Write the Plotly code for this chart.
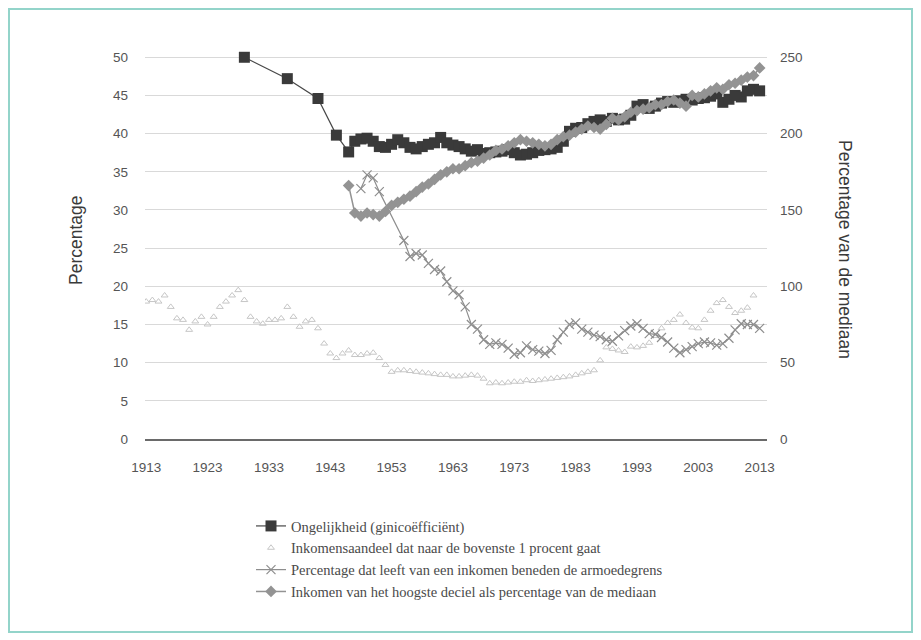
import plotly.graph_objects as go

# ---------------- data ----------------
gini_years = [1929, 1936, 1941, 1944, 1946] + list(range(1947, 2014))
gini_values = [50.0, 47.2, 44.6, 39.8, 37.6,
               39.0, 39.3, 39.4, 39.0, 38.3, 38.2, 38.6, 39.2, 38.8, 38.2,
               38.0, 38.3, 38.6, 38.8, 39.5, 38.8, 38.5, 38.3, 38.0, 37.7,
               37.9, 37.4, 37.5, 37.6, 37.7, 37.9, 37.5, 37.2, 37.3, 37.5,
               37.8, 37.9, 38.0, 38.2, 39.0, 40.3, 40.7, 40.8, 41.3, 41.6,
               41.8, 41.6, 42.0, 41.8, 41.9, 42.4, 43.6, 43.8, 43.3, 43.6,
               44.0, 44.2, 44.1, 44.3, 44.5, 44.4, 44.6, 44.7, 44.9, 45.2,
               44.1, 44.5, 45.0, 44.8, 45.6, 45.8, 45.6]

top1_years = list(range(1913, 2013))
top1_values = [18.0, 18.2, 18.0, 18.8, 17.3, 15.8, 15.6, 14.3, 15.4, 16.0,
               15.0, 16.0, 17.3, 18.0, 18.8, 19.5, 18.2, 16.0, 15.4, 15.1,
               15.6, 15.6, 15.8, 17.3, 16.0, 14.7, 15.4, 15.6, 14.5, 12.5,
               11.2, 10.6, 11.2, 11.6, 11.0, 11.0, 11.2, 11.3, 10.6, 9.7,
               8.8, 9.0, 9.0, 8.9, 8.8, 8.7, 8.6, 8.5, 8.4, 8.4,
               8.2, 8.2, 8.3, 8.4, 8.3, 7.9, 7.3, 7.4, 7.3, 7.4,
               7.5, 7.5, 7.7, 7.6, 7.7, 7.8, 7.9, 8.0, 8.1, 8.2,
               8.4, 8.6, 8.8, 9.0, 10.3, 12.0, 11.8, 11.6, 11.4, 12.1,
               12.0, 12.2, 12.6, 13.5, 14.5, 15.2, 15.6, 16.3, 15.2, 14.6,
               14.5, 15.6, 16.8, 17.8, 18.2, 17.3, 16.5, 16.8, 17.2, 18.8]

poverty_years = [1948, 1949, 1950, 1951] + list(range(1955, 2014))
poverty_values = [32.8, 34.6, 34.2, 32.4,
                  26.0, 23.9, 24.3, 24.1, 23.0, 22.2, 22.0, 20.6, 19.4, 18.9,
                  17.3, 15.0, 14.4, 13.0, 12.4, 12.6, 12.4, 11.9, 11.1, 11.3,
                  12.2, 11.7, 11.5, 11.2, 11.6, 13.0, 14.0, 15.0, 15.2, 14.4,
                  14.0, 13.6, 13.4, 13.0, 12.8, 13.5, 14.2, 14.8, 15.1, 14.5,
                  13.8, 13.7, 13.3, 12.7, 11.9, 11.3, 11.7, 12.1, 12.5, 12.7,
                  12.6, 12.3, 12.5, 13.2, 14.3, 15.1, 15.0, 15.0, 14.5]

decile_years = list(range(1946, 2014))
decile_values = [166, 148, 146, 148, 147, 146, 149, 153, 155, 157,
                 159, 162, 165, 167, 170, 173, 175, 177, 177, 179,
                 181, 182, 184, 186, 189, 190, 192, 194, 196, 195,
                 194, 193, 192, 193, 196, 198, 199, 201, 203, 205,
                 204, 203, 206, 210, 209, 211, 214, 215, 216, 217,
                 219, 219, 221, 222, 220, 218, 225, 224, 226, 228,
                 230, 229, 232, 233, 235, 237, 238, 243]

x_tick_years = list(range(1913, 2014, 10))
left_ticks = list(range(0, 51, 5))
right_ticks = list(range(0, 251, 50))

series_names = [
    "Ongelijkheid (ginicoëfficiënt)",
    "Inkomensaandeel dat naar de bovenste 1 procent gaat",
    "Percentage dat leeft van een inkomen beneden de armoedegrens",
    "Inkomen van het hoogste deciel als percentage van de mediaan",
]

# ---------------- geometry ----------------
# the page body has an 8px margin, so the figure is drawn 8px smaller
OFF = 8
W, H = 921 - OFF, 640 - OFF
ML, MR, MT, MB = 145 - OFF, 154, 34, 201
PW, PH = W - ML - MR, H - MT - MB


def px_x(page_x):
    return (page_x - OFF - ML) / PW


def px_y(page_y):
    return (MT + PH - (page_y - OFF)) / PH


fig = go.Figure()

fig.add_trace(go.Scatter(
    x=gini_years, y=gini_values, name=series_names[0], mode="lines+markers",
    line=dict(color="#474747", width=1.2),
    marker=dict(symbol="square", size=11, color="#3a3a3a"),
    yaxis="y"))

fig.add_trace(go.Scatter(
    x=top1_years, y=top1_values, name=series_names[1], mode="markers",
    marker=dict(symbol="triangle-up-open", size=6, color="#c6c6c6",
                line=dict(width=1, color="#c6c6c6")),
    yaxis="y"))

fig.add_trace(go.Scatter(
    x=poverty_years, y=poverty_values, name=series_names[2], mode="lines+markers",
    line=dict(color="#8e8e8e", width=1.2),
    marker=dict(symbol="x-thin-open", size=9, color="#8e8e8e",
                line=dict(width=1.2, color="#8e8e8e")),
    yaxis="y"))

fig.add_trace(go.Scatter(
    x=decile_years, y=decile_values, name=series_names[3], mode="lines+markers",
    line=dict(color="#939393", width=1.5),
    marker=dict(symbol="diamond", size=9, color="#939393"),
    yaxis="y2"))

tick_font = dict(family="Liberation Sans, Arial, sans-serif", size=13.5, color="#555555")
title_font = dict(family="Liberation Sans, Arial, sans-serif", size=17.5, color="#3a3a3a")

fig.update_layout(
    width=W, height=H,
    margin=dict(l=ML, r=MR, t=MT, b=MB, pad=0),
    paper_bgcolor="white", plot_bgcolor="white",
    showlegend=True,
    legend=dict(
        x=(243 - ML) / PW, xanchor="left",
        y=px_y(510), yanchor="top",
        font=dict(family="Liberation Serif, Times New Roman, serif", size=14.5, color="#4a4a4a"),
        bgcolor="rgba(0,0,0,0)", tracegroupgap=0, itemwidth=30,
    ),
    xaxis=dict(
        range=[1912.8, 2014.2], tickmode="array", tickvals=x_tick_years,
        ticktext=[str(v) for v in x_tick_years], tickfont=tick_font,
        showgrid=False, zeroline=False, showline=True, linecolor="#6a6a6a", linewidth=1.5,
        ticks="", ticklabelstandoff=15,
    ),
    yaxis=dict(
        range=[0, 52], tickmode="array", tickvals=left_ticks, tickfont=tick_font,
        showgrid=True, gridcolor="#d9d9d9", gridwidth=1, zeroline=False,
        showline=False, ticks="", ticklabelstandoff=16,
    ),
    yaxis2=dict(
        range=[0, 260], tickmode="array", tickvals=right_ticks, tickfont=tick_font,
        overlaying="y", side="right", showgrid=False, zeroline=False,
        showline=False, ticks="", ticklabelstandoff=12,
    ),
    annotations=[
        dict(text="Percentage", xref="paper", yref="paper",
             x=px_x(76), y=px_y(240), textangle=-90,
             showarrow=False, xanchor="center", yanchor="middle", font=title_font),
        dict(text="Percentage van de mediaan", xref="paper", yref="paper",
             x=px_x(845), y=px_y(249), textangle=90,
             showarrow=False, xanchor="center", yanchor="middle", font=title_font),
    ],
    shapes=[
        dict(type="rect", xref="paper", yref="paper",
             x0=px_x(9), x1=px_x(912),
             y0=px_y(632), y1=px_y(9),
             line=dict(color="#93d4ca", width=2), fillcolor="rgba(0,0,0,0)", layer="below"),
    ],
)

fig.write_html("out.html")
